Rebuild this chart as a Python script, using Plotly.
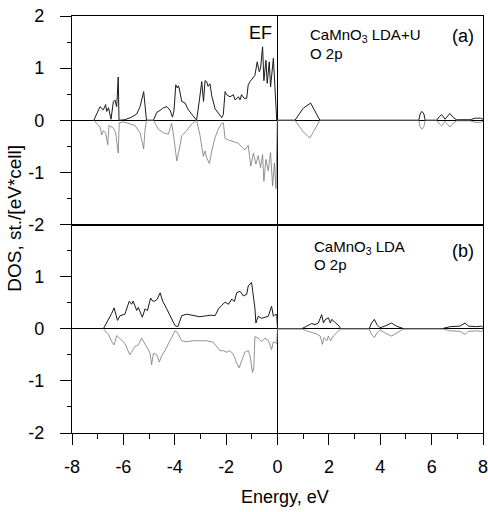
import plotly.graph_objects as go

# ---- Panel (a): CaMnO3 LDA+U, O 2p ----
a_up_e = [-7.15, -6.91, -6.78, -6.69, -6.65, -6.58, -6.48, -6.39, -6.33, -6.26, -6.20, -6.17,
          -5.94, -5.68, -5.48, -5.35, -5.21, -5.16, -5.10, -4.83, -4.70, -4.57, -4.44, -4.30,
          -4.18, -4.09, -4.03, -3.96, -3.90, -3.86, -3.82, -3.73, -3.60, -3.47, -3.28, -3.15,
          -3.04, -2.95, -2.88, -2.82, -2.76, -2.70, -2.63, -2.56, -2.43, -2.30, -2.17, -2.11,
          -2.04, -1.98, -1.85, -1.72, -1.65, -1.52, -1.46, -1.40, -1.30, -1.20, -1.14, -1.07,
          -0.94, -0.88, -0.79, -0.71, -0.66, -0.58, -0.53, -0.45, -0.40, -0.32, -0.27, -0.16,
          -0.10, -0.03,
          0.68, 1.00, 1.29, 1.39, 1.65, 5.50, 5.55, 5.62, 5.70, 5.75, 6.20, 6.30, 6.39, 6.52,
          6.62, 6.71, 6.85, 6.97, 7.50, 7.70, 7.90, 8.00]
a_up_v = [0, 0.26, 0.20, 0.30, 0.17, 0.24, 0.02, 0.36, 0.39, 0.26, 0.83, 0.0,
          0.01, 0.06, 0.12, 0.26, 0.55, 0.32, 0.0, 0.0, 0.15, 0.19, 0.24, 0.26,
          0.19, 0.06, 0.18, 0.68, 0.62, 0.66, 0.60, 0.36, 0.33, 0.20, 0.08, 0.0,
          0.39, 0.74, 0.36, 0.76, 0.74, 0.65, 0.70, 0.47, 0.22, 0.14, 0.05, 0.11,
          0.55, 0.49, 0.45, 0.49, 0.39, 0.45, 0.39, 0.49, 0.42, 0.42, 0.68, 0.74,
          0.83, 0.86, 1.12, 0.93, 1.00, 1.41, 0.76, 1.15, 0.71, 1.12, 0.64, 1.19,
          0.64, 0.0,
          0.0, 0.23, 0.33, 0.23, 0.0, 0.0, 0.12, 0.17, 0.12, 0.0, 0.0, 0.07, 0.11, 0.02,
          0.08, 0.13, 0.05, 0.01, 0.01, 0.04, 0.04, 0.02]

a_dn_e = [-7.15, -6.91, -6.84, -6.78, -6.69, -6.61, -6.56, -6.39, -6.30, -6.20, -6.16, -6.00,
          -5.55, -5.35, -5.21, -5.16, -5.10, -4.83, -4.64, -4.44, -4.25, -4.12, -4.06, -3.92,
          -3.82, -3.73, -3.54, -3.34, -3.15, -3.02, -2.89, -2.82, -2.76, -2.65, -2.56, -2.43,
          -2.30, -2.17, -2.11, -2.04, -1.91, -1.72, -1.52, -1.40, -1.27, -1.14, -1.04, -0.94,
          -0.84, -0.75, -0.66, -0.58, -0.53, -0.45, -0.36, -0.27, -0.19, -0.12, -0.06, -0.01,
          0.68, 1.00, 1.26, 1.40, 1.65, 5.50, 5.55, 5.62, 5.70, 5.75, 6.20, 6.30, 6.39, 6.52,
          6.62, 6.71, 6.85, 6.97, 7.50, 7.70, 7.90, 8.00]
a_dn_v = [0, -0.13, -0.28, -0.20, -0.24, -0.47, -0.10, -0.15, -0.24, -0.63, -0.05, -0.03,
          -0.10, -0.24, -0.55, -0.20, 0, 0, -0.17, -0.24, -0.27, -0.06, -0.24, -0.78,
          -0.55, -0.30, -0.20, -0.07, 0, -0.28, -0.69, -0.59, -0.72, -0.83, -0.59, -0.33,
          -0.17, -0.06, -0.05, -0.35, -0.38, -0.41, -0.44, -0.51, -0.57, -0.48, -0.88, -0.63,
          -0.84, -0.68, -0.91, -0.66, -1.17, -0.75, -0.97, -0.62, -1.26, -0.82, -1.31, 0,
          0.0, -0.22, -0.34, -0.22, 0.0, 0.0, -0.12, -0.17, -0.12, 0.0, 0.0, -0.07, -0.11, -0.02,
          -0.08, -0.13, -0.05, -0.01, -0.01, -0.04, -0.04, -0.02]

# ---- Panel (b): CaMnO3 LDA, O 2p ----
b_up_e = [-6.78, -6.65, -6.45, -6.36, -6.23, -6.13, -5.94, -5.77, -5.68, -5.62, -5.48, -5.42,
          -5.26, -5.16, -5.06, -4.94, -4.86, -4.77, -4.68, -4.57, -4.47, -4.31, -4.12, -3.99,
          -3.88, -3.73, -3.54, -3.28, -3.02, -2.76, -2.56, -2.43, -2.30, -2.17, -2.04, -1.91,
          -1.78, -1.68, -1.59, -1.46, -1.33, -1.20, -1.14, -1.01, -0.94, -0.88, -0.84, -0.75,
          -0.62, -0.49, -0.36, -0.23, -0.16, -0.10, -0.03, 0.0,
          0.94, 1.14, 1.33, 1.46, 1.59, 1.72, 1.79, 1.85, 1.98, 2.06, 2.11, 2.27, 2.40, 2.46,
          3.57, 3.66, 3.77, 3.87, 3.99, 4.18, 4.44, 4.63, 4.92,
          6.39, 6.72, 7.10, 7.30, 7.43, 7.75, 7.94, 8.00]
b_up_v = [0, 0.11, 0.30, 0.40, 0.16, 0.25, 0.28, 0.53, 0.47, 0.53, 0.35, 0.41,
          0.22, 0.38, 0.35, 0.59, 0.53, 0.53, 0.57, 0.69, 0.53, 0.38, 0.19, 0.06,
          0.04, 0.25, 0.28, 0.25, 0.23, 0.25, 0.26, 0.25, 0.38, 0.45, 0.51, 0.47,
          0.57, 0.52, 0.69, 0.72, 0.63, 0.66, 0.82, 0.89, 0.66, 0.40, 0.11, 0.24,
          0.20, 0.22, 0.24, 0.43, 0.24, 0.27, 0.27, 0.0,
          0.0, 0.05, 0.10, 0.08, 0.11, 0.27, 0.11, 0.17, 0.21, 0.11, 0.18, 0.11, 0.05, 0.0,
          0.0, 0.11, 0.18, 0.08, 0.02, 0.05, 0.11, 0.05, 0.0,
          0.0, 0.04, 0.05, 0.11, 0.05, 0.04, 0.05, 0.03]

b_dn_e = [-6.78, -6.58, -6.45, -6.36, -6.26, -6.13, -5.94, -5.75, -5.55, -5.42, -5.29, -5.10,
          -4.96, -4.90, -4.83, -4.70, -4.60, -4.51, -4.38, -4.25, -4.12, -3.99, -3.90, -3.73,
          -3.54, -3.28, -3.02, -2.76, -2.50, -2.37, -2.24, -2.11, -1.98, -1.85, -1.72, -1.59,
          -1.49, -1.40, -1.27, -1.14, -1.07, -0.97, -0.92, -0.88, -0.75, -0.62, -0.49, -0.36,
          -0.23, -0.16, -0.03, 0.0,
          0.94, 1.14, 1.33, 1.53, 1.66, 1.75, 1.81, 1.92, 1.98, 2.07, 2.17, 2.30, 2.46,
          3.57, 3.66, 3.77, 3.87, 3.99, 4.18, 4.44, 4.63, 4.92,
          6.39, 6.72, 7.10, 7.30, 7.43, 7.75, 7.94, 8.00]
b_dn_v = [0, -0.11, -0.25, -0.31, -0.13, -0.19, -0.28, -0.50, -0.34, -0.31, -0.18, -0.34,
          -0.47, -0.69, -0.47, -0.50, -0.64, -0.52, -0.42, -0.29, -0.16, -0.04, -0.07, -0.23,
          -0.25, -0.23, -0.23, -0.23, -0.26, -0.33, -0.42, -0.42, -0.45, -0.42, -0.49, -0.66,
          -0.75, -0.62, -0.45, -0.42, -0.52, -0.84, -0.73, -0.15, -0.18, -0.25, -0.18, -0.22,
          -0.40, -0.25, -0.28, 0.0,
          0.0, -0.04, -0.07, -0.10, -0.14, -0.30, -0.17, -0.23, -0.14, -0.23, -0.14, -0.07, 0.0,
          0.0, -0.11, -0.17, -0.08, -0.02, -0.08, -0.14, -0.08, 0.0,
          0.0, -0.04, -0.05, -0.11, -0.05, -0.04, -0.05, -0.03]

x_ticks = [-8, -6, -4, -2, 0, 2, 4, 6, 8]
x_tick_text = ["-8", "-6", "-4", "-2", "0", "2", "4", "6", "8"]
y_ticks_a = [-2, -1, 0, 1, 2]
y_tick_text_a = ["-2", "-1", "0", "1", "2"]
y_ticks_b = [-2, -1, 0, 1]
y_tick_text_b = ["-2", "-1", "0", "1"]

FONT = "Liberation Sans, Arial, sans-serif"
UP = dict(color="#1a1a1a", width=1.0)
DN = dict(color="#777777", width=0.8)

fig = go.Figure()
fig.add_trace(go.Scatter(x=a_up_e, y=a_up_v, mode="lines", line=UP, xaxis="x2", yaxis="y2"))
fig.add_trace(go.Scatter(x=a_dn_e, y=a_dn_v, mode="lines", line=DN, xaxis="x2", yaxis="y2"))
fig.add_trace(go.Scatter(x=b_up_e, y=b_up_v, mode="lines", line=UP, xaxis="x", yaxis="y"))
fig.add_trace(go.Scatter(x=b_dn_e, y=b_dn_v, mode="lines", line=DN, xaxis="x", yaxis="y"))

axis_common = dict(showgrid=False, showline=True, mirror=True, linecolor="black", linewidth=1.3,
                   zeroline=True, zerolinecolor="black", zerolinewidth=1.3, automargin=False,
                   ticklabeloverflow="allow",
                   tickfont=dict(family=FONT, size=18, color="black"), tickcolor="black")

fig.update_layout(
    width=488, height=512,
    margin=dict(l=72, r=5, t=16, b=79),
    paper_bgcolor="white", plot_bgcolor="white",
    showlegend=False,
    xaxis=dict(range=[-8, 8], tickvals=x_ticks, ticktext=x_tick_text, ticks="outside",
               ticklen=11, tickwidth=1.2,
               minor=dict(dtick=1, ticks="outside", ticklen=5, tickcolor="black"),
               anchor="y", ticklabelstandoff=6, **axis_common),
    xaxis2=dict(range=[-8, 8], matches="x", anchor="y2", showticklabels=False, ticks="",
                **axis_common),
    yaxis=dict(range=[-2, 2], domain=[0, 0.5], tickvals=y_ticks_b, ticktext=y_tick_text_b,
               ticks="outside", ticklen=11, tickwidth=1.2, anchor="x", ticklabelstandoff=12,
               minor=dict(dtick=0.5, ticks="outside", ticklen=4, tickcolor="black"),
               **axis_common),
    yaxis2=dict(range=[-2, 2], domain=[0.5, 1], tickvals=y_ticks_a, ticktext=y_tick_text_a,
                ticks="outside", ticklen=11, tickwidth=1.2, anchor="x2", ticklabelstandoff=12,
                minor=dict(dtick=0.5, ticks="outside", ticklen=4, tickcolor="black"),
                **axis_common),
)

ann_font = dict(family=FONT, size=15, color="black")
big_font = dict(family=FONT, size=18, color="black")
annotations = [
    dict(text="EF", x=-0.15, y=1.67, xref="x2", yref="y2", xanchor="right", yanchor="middle",
         showarrow=False, font=big_font),
    dict(text="CaMnO<sub>3</sub> LDA+U", x=1.19, y=1.62, xref="x2", yref="y2", xanchor="left",
         yanchor="middle", showarrow=False, font=ann_font),
    dict(text="O 2p", x=1.19, y=1.29, xref="x2", yref="y2", xanchor="left", yanchor="middle",
         showarrow=False, font=ann_font),
    dict(text="(a)", x=7.22, y=1.61, xref="x2", yref="y2", xanchor="center", yanchor="middle",
         showarrow=False, font=big_font),
    dict(text="CaMnO<sub>3</sub> LDA", x=1.34, y=1.55, xref="x", yref="y", xanchor="left",
         yanchor="middle", showarrow=False, font=ann_font),
    dict(text="O 2p", x=1.34, y=1.23, xref="x", yref="y", xanchor="left", yanchor="middle",
         showarrow=False, font=ann_font),
    dict(text="(b)", x=7.22, y=1.49, xref="x", yref="y", xanchor="center", yanchor="middle",
         showarrow=False, font=big_font),
    dict(text="DOS, st./[eV*cell]", x=-0.139, y=0.516, xref="paper", yref="paper",
         xanchor="center", yanchor="middle", textangle=-90, showarrow=False,
         font=dict(family=FONT, size=19, color="black")),
    dict(text="Energy, eV", x=0.518, y=-0.1525, xref="paper", yref="paper",
         xanchor="center", yanchor="middle", showarrow=False,
         font=dict(family=FONT, size=18, color="black")),
]
fig.update_layout(annotations=annotations)

fig.write_html("out.html", config={"displayModeBar": False},
               post_script="document.body.style.margin='0px';")
